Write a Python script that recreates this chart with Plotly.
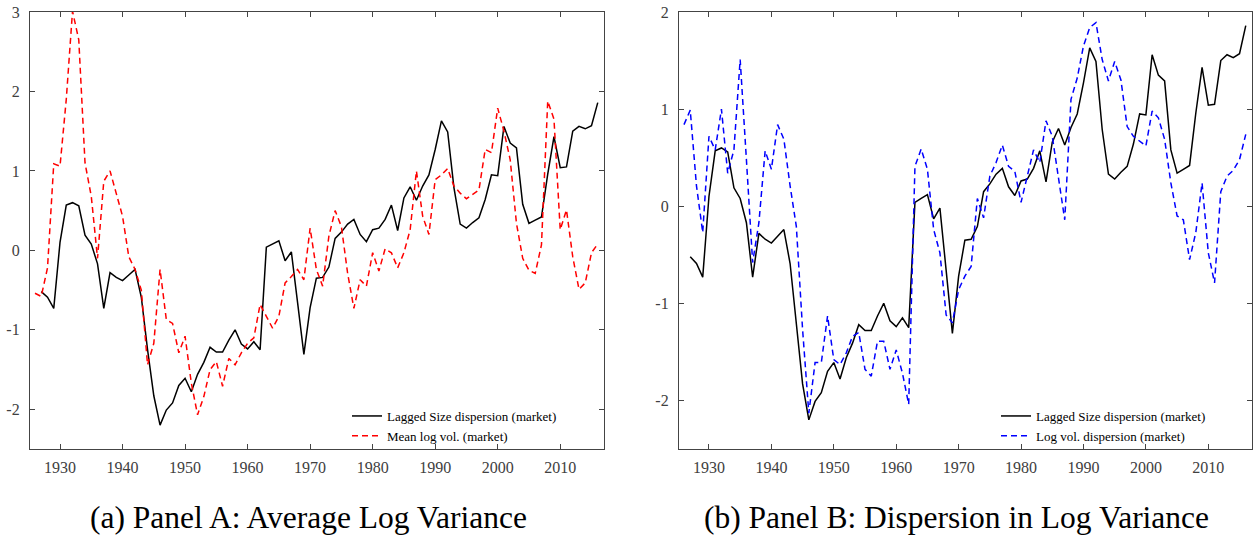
import plotly.graph_objects as go

years_size = list(range(1927, 2017))
size_disp = [
    -0.52, -0.59, -0.73, 0.10, 0.57, 0.60, 0.56, 0.19, 0.08, -0.17,   # 1927-1936
    -0.73, -0.28, -0.34, -0.38, -0.31, -0.24, -0.59, -1.25, -1.83, -2.20,  # 1937-1946
    -2.01, -1.92, -1.70, -1.61, -1.78, -1.56, -1.41, -1.22, -1.28, -1.28,  # 1947-1956
    -1.13, -1.00, -1.18, -1.24, -1.15, -1.25, 0.04, 0.08, 0.12, -0.13,    # 1957-1966
    -0.02, -0.66, -1.31, -0.72, -0.35, -0.34, -0.21, 0.15, 0.23, 0.33,    # 1967-1976
    0.39, 0.20, 0.11, 0.26, 0.28, 0.39, 0.57, 0.25, 0.66, 0.80,           # 1977-1986
    0.63, 0.81, 0.95, 1.27, 1.63, 1.49, 0.79, 0.33, 0.28, 0.35,           # 1987-1996
    0.41, 0.64, 0.95, 0.94, 1.56, 1.35, 1.29, 0.58, 0.34, 0.38,           # 1997-2006
    0.42, 0.96, 1.43, 1.04, 1.05, 1.50, 1.56, 1.53, 1.57, 1.86,           # 2007-2016
]

years_vol = list(range(1926, 2017))
mean_log_vol = [
    -0.54, -0.58, -0.22, 1.09, 1.06, 1.90, 3.01, 2.65, 1.10, 0.68,        # 1926-1935
    -0.10, 0.87, 1.00, 0.72, 0.43, -0.08, -0.24, -0.50, -1.44, -1.17,     # 1936-1945
    -0.24, -0.87, -0.92, -1.29, -1.08, -1.67, -2.07, -1.84, -1.50, -1.40, # 1946-1955
    -1.71, -1.36, -1.44, -1.29, -1.17, -1.10, -0.68, -0.83, -0.98, -0.83, # 1956-1965
    -0.41, -0.33, -0.24, -0.37, 0.28, -0.24, -0.45, 0.18, 0.50, 0.30,     # 1966-1975
    -0.29, -0.73, -0.37, -0.45, -0.03, -0.26, 0.02, -0.03, -0.22, -0.03,  # 1976-1985
    0.26, 1.00, 0.43, 0.20, 0.89, 0.95, 1.03, 0.81, 0.72, 0.65,           # 1986-1995
    0.70, 0.76, 1.27, 1.23, 1.79, 1.50, 1.14, 0.34, -0.10, -0.25,         # 1996-2005
    -0.29, 0.07, 1.88, 1.65, 0.26, 0.51, -0.08, -0.49, -0.41, -0.03,      # 2006-2015
    0.08,                                                                 # 2016
]

log_vol_disp = [
    0.84, 0.99, 0.21, -0.27, 0.72, 0.58, 1.00, 0.34, 0.58, 1.51,          # 1926-1935
    0.48, -0.58, -0.17, 0.57, 0.38, 0.84, 0.69, 0.21, -0.21, -1.27,       # 1936-1945
    -2.13, -1.61, -1.61, -1.13, -1.58, -1.63, -1.51, -1.34, -1.30, -1.68, # 1946-1955
    -1.75, -1.39, -1.39, -1.68, -1.48, -1.72, -2.04, 0.41, 0.59, 0.38,    # 1956-1965
    -0.24, -0.48, -1.12, -1.20, -0.86, -0.72, -0.62, 0.08, -0.12, 0.31,   # 1966-1975
    0.45, 0.63, 0.41, 0.36, 0.04, 0.31, 0.58, 0.45, 0.88, 0.72,           # 1976-1985
    0.31, -0.14, 1.10, 1.32, 1.65, 1.84, 1.89, 1.51, 1.29, 1.49,          # 1986-1995
    1.30, 0.82, 0.72, 0.67, 0.62, 0.98, 0.91, 0.69, 0.24, -0.10,          # 1996-2005
    -0.14, -0.55, -0.27, 0.24, -0.48, -0.79, 0.15, 0.31, 0.37, 0.48,      # 2006-2015
    0.74,                                                                 # 2016
]

x_ticks = [1930, 1940, 1950, 1960, 1970, 1980, 1990, 2000, 2010]
y_ticks_a = [-2, -1, 0, 1, 2, 3]
y_labels_a = ["-2", "-1", "0", "1", "2", "3"]
y_ticks_b = [-2, -1, 0, 1, 2]
y_labels_b = ["-2", "-1", "0", "1", "2"]

name_size = "Lagged Size dispersion (market)"
name_mean = "Mean log vol. (market)"
name_disp = "Log vol. dispersion (market)"
caption_a = "(a) Panel A: Average Log Variance"
caption_b = "(b) Panel B: Dispersion in Log Variance"

SERIF = "Liberation Serif"
AX = "#444444"
TICKC = "#404040"

fig = go.Figure()
fig.add_trace(go.Scatter(x=years_size, y=size_disp, mode="lines", name=name_size,
                         line=dict(color="black", width=1.5), xaxis="x", yaxis="y", legend="legend"))
fig.add_trace(go.Scatter(x=years_vol, y=mean_log_vol, mode="lines", name=name_mean,
                         line=dict(color="#ff0000", width=1.5, dash="6px,4px"), xaxis="x", yaxis="y", legend="legend"))
fig.add_trace(go.Scatter(x=years_size, y=size_disp, mode="lines", name=name_size,
                         line=dict(color="black", width=1.5), xaxis="x2", yaxis="y2", legend="legend2"))
fig.add_trace(go.Scatter(x=years_vol, y=log_vol_disp, mode="lines", name=name_disp,
                         line=dict(color="#0000ff", width=1.5, dash="6px,4px"), xaxis="x2", yaxis="y2", legend="legend2"))

W, H = 1253, 536
ydom = [1 - 449 / H, 1 - 12 / H]

def xax(dom, anchor):
    return dict(domain=dom, anchor=anchor, range=[1925.2, 2017.0], tickvals=x_ticks,
                ticks="inside", ticklen=5, tickcolor=AX, tickwidth=1, mirror="allticks", showline=True,
                linecolor=AX, linewidth=1.2, showgrid=False, zeroline=False, automargin=False,
                ticklabelstandoff=4,
                tickfont=dict(family=SERIF, size=16, color=TICKC))

def yax(vals, labels, rng, anchor):
    return dict(domain=ydom, anchor=anchor, range=rng, tickvals=vals, ticktext=labels,
                ticks="inside", ticklen=5, tickcolor=AX, tickwidth=1, mirror="allticks", showline=True,
                linecolor=AX, linewidth=1.2, showgrid=False, zeroline=False, automargin=False,
                ticklabelstandoff=6,
                tickfont=dict(family=SERIF, size=16, color=TICKC))

leg_common = dict(bgcolor="rgba(0,0,0,0)", font=dict(family=SERIF, size=13, color="black"),
                  xanchor="left", yanchor="top", tracegroupgap=0, itemwidth=30)

fig.update_layout(
    width=W, height=H,
    margin=dict(l=0, r=0, t=0, b=0, autoexpand=False),
    paper_bgcolor="white", plot_bgcolor="white",
    showlegend=True,
    xaxis=xax([30 / W, 604 / W], "y"),
    yaxis=yax(y_ticks_a, y_labels_a, [-2.5, 3.0], "x"),
    xaxis2=xax([679 / W, 1252 / W], "y2"),
    yaxis2=yax(y_ticks_b, y_labels_b, [-2.5, 2.0], "x2"),
    legend=dict(x=347 / W, y=1 - 401 / H, **leg_common),
    legend2=dict(x=996 / W, y=1 - 401 / H, **leg_common),
    annotations=[
        dict(text=caption_a, x=308.5 / W, y=1 - 517 / H, xref="paper", yref="paper",
             showarrow=False, xanchor="center", yanchor="middle",
             font=dict(family=SERIF, size=31.5, color="black")),
        dict(text=caption_b, x=956 / W, y=1 - 517 / H, xref="paper", yref="paper",
             showarrow=False, xanchor="center", yanchor="middle",
             font=dict(family=SERIF, size=31.5, color="black")),
    ],
)

fig.write_html("out.html", config={"displayModeBar": False},
               post_script="document.body.style.margin='0';")
